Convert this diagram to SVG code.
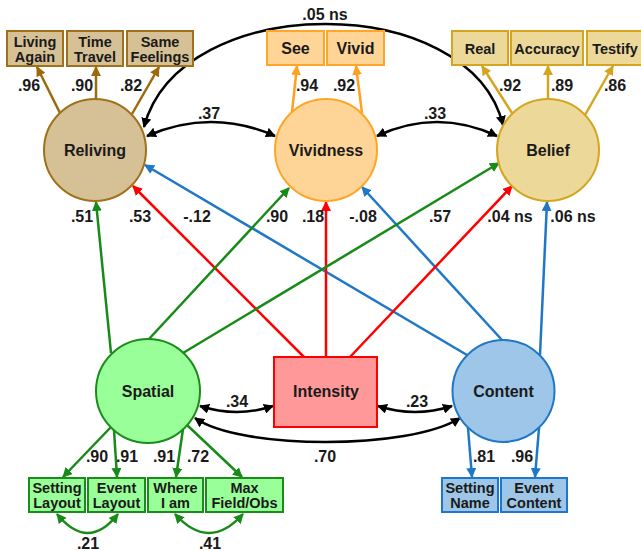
<svg xmlns="http://www.w3.org/2000/svg" width="641" height="551" viewBox="0 0 641 551">
<style>
text{font-family:"Liberation Sans",Arial,sans-serif;font-weight:bold;fill:#1a1a1a;text-anchor:middle}
.n{font-size:16px}
.b{font-size:14.5px}
.bb{font-size:14.5px}
.l{font-size:16px}
.box{stroke-width:2}
.circ{stroke-width:2}
</style>
<defs>
<marker id="aK" viewBox="0 0 10 10" refX="9" refY="5" markerWidth="10" markerHeight="10" markerUnits="userSpaceOnUse" orient="auto-start-reverse"><path d="M0,0 L10,5 L0,10 z" fill="#000"/></marker>
<marker id="aBr" viewBox="0 0 10 10" refX="9" refY="5" markerWidth="10" markerHeight="10" markerUnits="userSpaceOnUse" orient="auto-start-reverse"><path d="M0,0 L10,5 L0,10 z" fill="#9c6a0c"/></marker>
<marker id="aOr" viewBox="0 0 10 10" refX="9" refY="5" markerWidth="10" markerHeight="10" markerUnits="userSpaceOnUse" orient="auto-start-reverse"><path d="M0,0 L10,5 L0,10 z" fill="#ffa020"/></marker>
<marker id="aGo" viewBox="0 0 10 10" refX="9" refY="5" markerWidth="10" markerHeight="10" markerUnits="userSpaceOnUse" orient="auto-start-reverse"><path d="M0,0 L10,5 L0,10 z" fill="#d4a620"/></marker>
<marker id="aGr" viewBox="0 0 10 10" refX="9" refY="5" markerWidth="10" markerHeight="10" markerUnits="userSpaceOnUse" orient="auto-start-reverse"><path d="M0,0 L10,5 L0,10 z" fill="#178a17"/></marker>
<marker id="aR" viewBox="0 0 10 10" refX="9" refY="5" markerWidth="10" markerHeight="10" markerUnits="userSpaceOnUse" orient="auto-start-reverse"><path d="M0,0 L10,5 L0,10 z" fill="#ff0000"/></marker>
<marker id="aBl" viewBox="0 0 10 10" refX="9" refY="5" markerWidth="10" markerHeight="10" markerUnits="userSpaceOnUse" orient="auto-start-reverse"><path d="M0,0 L10,5 L0,10 z" fill="#1f77c8"/></marker>
</defs>
<rect width="641" height="551" fill="#fff"/>

<g id="connectors">
  <g stroke="#9c6a0c" fill="none" stroke-width="2.5" marker-end="url(#aBr)">
    <path d="M60,113 L37,67"/>
    <path d="M96,99 L96,67"/>
    <path d="M132,114 L159,67"/>
  </g>
  <g stroke="#ffa020" fill="none" stroke-width="2.5" marker-end="url(#aOr)">
    <path d="M292,112 L297,66"/>
    <path d="M362,113 L356,66"/>
  </g>
  <g stroke="#d4a620" fill="none" stroke-width="2.5" marker-end="url(#aGo)">
    <path d="M512,113 L482,66"/>
    <path d="M548,99 L548,66"/>
    <path d="M585,115 L613,66"/>
  </g>
  <g stroke="#178a17" fill="none" stroke-width="2.5" marker-end="url(#aGr)">
    <path d="M111,427 L63,477"/>
    <path d="M114,430 L117,477"/>
    <path d="M183,429 L176,477"/>
    <path d="M187,425 L242,477"/>
  </g>
  <g stroke="#1f77c8" fill="none" stroke-width="2.5" marker-end="url(#aBl)">
    <path d="M468,428 L472,477"/>
    <path d="M539,428 L535,477"/>
  </g>
  <g stroke="#1f77c8" fill="none" stroke-width="2.5" marker-end="url(#aBl)">
    <path d="M467,355 L145,165"/>
    <path d="M502,340 L362,187"/>
    <path d="M540,355 L547,202"/>
  </g>
  <g stroke="#ff0000" fill="none" stroke-width="2.5" marker-end="url(#aR)">
    <path d="M304,357 L133,186"/>
    <path d="M326,357 L326,202"/>
    <path d="M350,357 L512,186"/>
  </g>
  <g stroke="#178a17" fill="none" stroke-width="2.5" marker-end="url(#aGr)">
    <path d="M111,353 L96,202"/>
    <path d="M149,339 L289,188"/>
    <path d="M183,353 L499,163"/>
  </g>
  <g stroke="#000" fill="none" stroke-width="2.5" marker-start="url(#aK)" marker-end="url(#aK)">
    <path d="M147,136 Q211,108 275,136"/>
    <path d="M377,136 Q437,108 497,136"/>
    <path d="M144,127 C180,-10 470,-10 503,125"/>
    <path d="M200,406 Q237,418 273,406"/>
    <path d="M378,406 Q415,418 452,406"/>
    <path d="M195,418 C240,450 410,450 460,418"/>
  </g>
  <g stroke="#178a17" fill="none" stroke-width="2.5" marker-start="url(#aGr)" marker-end="url(#aGr)">
    <path d="M57,514 Q88,552 118,514"/>
    <path d="M175,514 Q209,552 243,514"/>
  </g>
  <g>
    <text x="29" y="91" class="l">.96</text>
    <text x="82" y="91" class="l">.90</text>
    <text x="131" y="91" class="l">.82</text>
    <text x="307" y="91" class="l">.94</text>
    <text x="344" y="91" class="l">.92</text>
    <text x="510" y="91" class="l">.92</text>
    <text x="562" y="91" class="l">.89</text>
    <text x="615" y="91" class="l">.86</text>
    <rect x="300" y="8" width="50" height="14" fill="#fff"/>
    <text x="325" y="20" class="l">.05 ns</text>
    <text x="209" y="119" class="l">.37</text>
    <text x="435" y="119" class="l">.33</text>
    <text x="82" y="222" class="l">.51</text>
    <text x="140" y="222" class="l">.53</text>
    <text x="197" y="222" class="l">-.12</text>
    <text x="277" y="222" class="l">.90</text>
    <text x="313" y="222" class="l">.18</text>
    <text x="363" y="222" class="l">-.08</text>
    <text x="440" y="222" class="l">.57</text>
    <text x="510" y="222" class="l">.04 ns</text>
    <text x="573" y="222" class="l">.06 ns</text>
    <text x="237" y="407" class="l">.34</text>
    <text x="417" y="407" class="l">.23</text>
    <text x="325" y="462" class="l">.70</text>
    <text x="97" y="462" class="l">.90</text>
    <text x="127" y="462" class="l">.91</text>
    <text x="164" y="462" class="l">.91</text>
    <text x="198" y="462" class="l">.72</text>
    <text x="484" y="462" class="l">.81</text>
    <text x="522" y="462" class="l">.96</text>
    <text x="88" y="549" class="l">.21</text>
    <text x="210" y="549" class="l">.41</text>
  </g>
</g>

<g id="reliving">
  <circle cx="95" cy="150" r="51" fill="#d6c096" stroke="#a0701a" class="circ"/>
  <text x="95" y="156" class="n">Reliving</text>
</g>
<g id="vividness">
  <circle cx="326" cy="150" r="51" fill="#fed597" stroke="#ffa528" class="circ"/>
  <text x="326" y="156" class="n">Vividness</text>
</g>
<g id="belief">
  <circle cx="548" cy="150" r="51" fill="#ecd898" stroke="#d4a620" class="circ"/>
  <text x="548" y="156" class="n">Belief</text>
</g>
<g id="spatial">
  <circle cx="148" cy="391" r="52" fill="#99ff99" stroke="#1b8c1b" class="circ"/>
  <text x="148" y="397" class="n">Spatial</text>
</g>
<g id="intensity">
  <rect x="274" y="357" width="103" height="70" fill="#ff9999" stroke="#ff0000" class="box"/>
  <text x="326" y="397" class="n">Intensity</text>
</g>
<g id="content">
  <circle cx="503.5" cy="391" r="51" fill="#9dc6e8" stroke="#1f77c8" class="circ"/>
  <text x="503.5" y="397" class="n">Content</text>
</g>

<g id="living-again">
  <rect x="7" y="31" width="56" height="35" fill="#d6c096" stroke="#a0701a" class="box"/>
  <text x="35" y="47" class="b">Living</text><text x="35" y="62" class="b">Again</text>
</g>
<g id="time-travel">
  <rect x="67" y="31" width="56" height="35" fill="#d6c096" stroke="#a0701a" class="box"/>
  <text x="95" y="47" class="b">Time</text><text x="95" y="62" class="b">Travel</text>
</g>
<g id="same-feelings">
  <rect x="127" y="31" width="66" height="35" fill="#d6c096" stroke="#a0701a" class="box"/>
  <text x="160" y="47" class="b">Same</text><text x="160" y="62" class="b">Feelings</text>
</g>
<g id="see">
  <rect x="267" y="31" width="57" height="34" fill="#fed597" stroke="#ffa528" class="box"/>
  <text x="295.5" y="54" class="l">See</text>
</g>
<g id="vivid">
  <rect x="327" y="31" width="57" height="34" fill="#fed597" stroke="#ffa528" class="box"/>
  <text x="355.5" y="54" class="l">Vivid</text>
</g>
<g id="real">
  <rect x="452" y="31" width="56" height="34" fill="#ecd898" stroke="#d4a620" class="box"/>
  <text x="480" y="54" class="b">Real</text>
</g>
<g id="accuracy">
  <rect x="511" y="31" width="72" height="34" fill="#ecd898" stroke="#d4a620" class="box"/>
  <text x="547" y="54" class="b">Accuracy</text>
</g>
<g id="testify">
  <rect x="587" y="31" width="57" height="34" fill="#ecd898" stroke="#d4a620" class="box"/>
  <text x="615" y="54" class="b">Testify</text>
</g>

<g id="setting-layout">
  <rect x="29" y="478" width="56" height="34" fill="#99ff99" stroke="#1b8c1b" class="box"/>
  <text x="57" y="493" class="bb">Setting</text><text x="57" y="508" class="bb">Layout</text>
</g>
<g id="event-layout">
  <rect x="88" y="478" width="57" height="34" fill="#99ff99" stroke="#1b8c1b" class="box"/>
  <text x="116.5" y="493" class="bb">Event</text><text x="116.5" y="508" class="bb">Layout</text>
</g>
<g id="where-i-am">
  <rect x="148" y="478" width="55" height="34" fill="#99ff99" stroke="#1b8c1b" class="box"/>
  <text x="175.5" y="493" class="bb">Where</text><text x="175.5" y="508" class="bb">I am</text>
</g>
<g id="max-field-obs">
  <rect x="206" y="478" width="77" height="34" fill="#99ff99" stroke="#1b8c1b" class="box"/>
  <text x="244.5" y="493" class="bb">Max</text><text x="244.5" y="508" class="bb">Field/Obs</text>
</g>
<g id="setting-name">
  <rect x="442" y="478" width="56" height="34" fill="#9dc6e8" stroke="#1f77c8" class="box"/>
  <text x="470" y="493" class="bb">Setting</text><text x="470" y="508" class="bb">Name</text>
</g>
<g id="event-content">
  <rect x="501" y="478" width="66" height="34" fill="#9dc6e8" stroke="#1f77c8" class="box"/>
  <text x="534" y="493" class="bb">Event</text><text x="534" y="508" class="bb">Content</text>
</g>
</svg>
